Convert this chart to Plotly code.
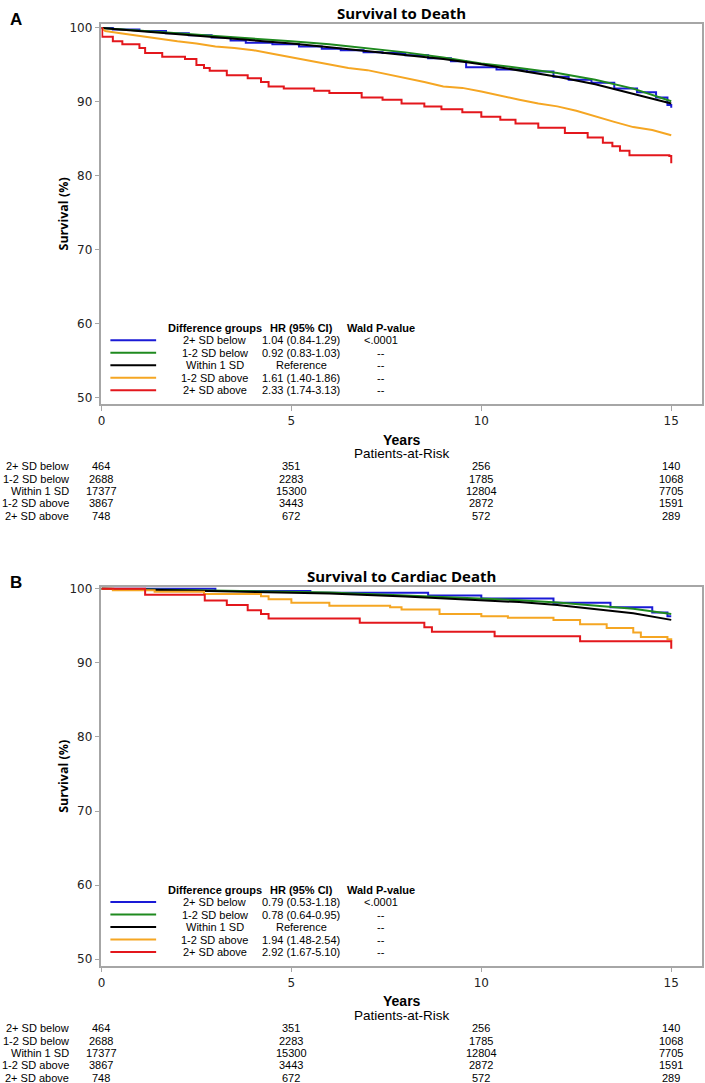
import plotly.graph_objects as go

W, H = 705, 1083

# ---------------- data ----------------
groups = ["2+ SD below", "1-2 SD below", "Within 1 SD", "1-2 SD above", "2+ SD above"]
colors = ["#1a1ad6", "#1f8a1f", "#000000", "#f5a623", "#e3171c"]

# Panel A: Survival to Death
A_blue_t = [0, 0.3, 1.0, 1.7, 2.3, 2.9, 3.4, 3.8, 4.5, 5.2, 5.8, 6.3, 6.9, 7.4, 8.0, 8.6, 9.2, 9.6, 10.4, 11.2, 11.9, 12.3, 12.9, 13.5, 14.1, 14.6, 14.9, 15.0]
A_blue_s = [100, 99.8, 99.6, 99.3, 99.0, 98.7, 98.3, 98.0, 97.8, 97.5, 97.2, 97.0, 96.7, 96.6, 96.3, 95.9, 95.5, 94.7, 94.4, 94.1, 93.4, 93.0, 92.6, 91.8, 91.3, 90.6, 89.6, 89.2]
A_green_t = [0, 1, 2, 3, 4, 5, 6, 7, 8, 9, 10, 11, 12, 13, 14, 15]
A_green_s = [100, 99.7, 99.3, 98.9, 98.6, 98.2, 97.8, 97.3, 96.7, 96.0, 95.2, 94.6, 93.9, 93.0, 91.8, 90.1]
A_black_t = [0, 1, 2, 3, 4, 5, 6, 7, 8, 9, 10, 11, 12, 13, 14, 15]
A_black_s = [100, 99.6, 99.2, 98.8, 98.3, 97.9, 97.4, 96.9, 96.4, 95.8, 95.1, 94.3, 93.4, 92.4, 91.1, 89.8]
A_orange_t = [0, 0.1, 0.5, 1.0, 1.5, 2.0, 2.5, 3.0, 3.5, 4.0, 4.5, 5.0, 5.5, 6.0, 6.5, 7.0, 7.5, 8.0, 8.5, 9.0, 9.5, 10.0, 10.5, 11.0, 11.5, 12.0, 12.5, 13.0, 13.5, 14.0, 14.5, 15.0]
A_orange_s = [100, 99.6, 99.3, 98.9, 98.5, 98.2, 97.9, 97.5, 97.3, 97.0, 96.5, 96.0, 95.6, 95.0, 94.6, 94.3, 93.8, 93.3, 92.7, 92.1, 91.9, 91.4, 90.8, 90.3, 89.8, 89.4, 88.8, 88.0, 87.3, 86.6, 86.2, 85.5]
A_red_t = [0, 0.02, 0.3, 0.55, 1.0, 1.15, 1.6, 2.2, 2.5, 2.7, 2.85, 3.3, 3.85, 4.2, 4.4, 4.8, 5.6, 6.0, 6.85, 7.4, 7.9, 8.5, 8.95, 9.5, 10.0, 10.5, 10.9, 11.5, 12.2, 12.8, 13.2, 13.45, 13.65, 13.9, 14.95, 15.0]
A_red_s = [100, 98.8, 98.2, 97.8, 97.3, 96.6, 96.1, 95.8, 95.0, 94.6, 94.2, 93.6, 93.2, 92.7, 92.1, 91.8, 91.5, 91.2, 90.6, 90.3, 89.8, 89.4, 89.0, 88.6, 88.0, 87.6, 87.1, 86.5, 85.8, 85.2, 84.5, 84.0, 83.4, 82.8, 82.7, 81.7]

# Panel B: Survival to Cardiac Death
B_blue_t = [0, 3.0, 5.5, 8.6, 10.0, 11.9, 13.4, 14.5, 14.9, 15.0]
B_blue_s = [100, 99.7, 99.45, 99.1, 98.7, 98.1, 97.5, 96.8, 96.3, 96.3]
B_green_t = [0, 2, 4, 6, 8, 10, 11, 12, 13, 14, 15]
B_green_s = [100, 99.85, 99.7, 99.5, 99.1, 98.7, 98.45, 98.15, 97.75, 97.3, 96.6]
B_black_t = [0, 2, 4, 6, 8, 10, 11, 12, 13, 14, 15]
B_black_s = [100, 99.8, 99.6, 99.35, 98.95, 98.5, 98.2, 97.8, 97.3, 96.7, 95.8]
B_orange_t = [0, 0.3, 1.4, 2.7, 4.2, 4.4, 5.0, 6.0, 7.6, 7.9, 8.9, 10.0, 10.7, 11.9, 12.6, 13.3, 14.0, 14.2, 14.9, 15.0]
B_orange_s = [100, 99.8, 99.6, 99.3, 99.0, 98.6, 98.1, 97.7, 97.5, 97.2, 96.6, 96.3, 96.1, 95.8, 95.2, 94.7, 94.1, 93.5, 93.2, 92.9]
B_red_t = [0, 1.15, 2.72, 3.3, 3.85, 4.2, 4.4, 6.8, 8.5, 8.7, 10.35, 12.6, 14.95, 15.0]
B_red_s = [100, 99.2, 98.4, 97.8, 97.1, 96.6, 96.0, 95.4, 94.8, 94.2, 93.6, 92.9, 92.9, 91.9]

A_hr = ["1.04 (0.84-1.29)", "0.92 (0.83-1.03)", "Reference", "1.61 (1.40-1.86)", "2.33 (1.74-3.13)"]
B_hr = ["0.79 (0.53-1.18)", "0.78 (0.64-0.95)", "Reference", "1.94 (1.48-2.54)", "2.92 (1.67-5.10)"]
pvals = ["<.0001", "--", "--", "--", "--"]

risk_times = [0, 5, 10, 15]
risk_2below = [464, 351, 256, 140]
risk_12below = [2688, 2283, 1785, 1068]
risk_within = [17377, 15300, 12804, 7705]
risk_12above = [3867, 3443, 2872, 1591]
risk_2above = [748, 672, 572, 289]
risk_rows = [risk_2below, risk_12below, risk_within, risk_12above, risk_2above]

x_ticks = [0, 5, 10, 15]
y_ticks = [50, 60, 70, 80, 90, 100]

# ---------------- helpers ----------------
def px(x):
    return x / W

def py(y):
    return 1 - y / H

fig = go.Figure()

panelA = [(A_blue_t, A_blue_s, "hv"), (A_green_t, A_green_s, "linear"), (A_black_t, A_black_s, "linear"),
          (A_orange_t, A_orange_s, "linear"), (A_red_t, A_red_s, "hv")]
panelB = [(B_blue_t, B_blue_s, "hv"), (B_green_t, B_green_s, "linear"), (B_black_t, B_black_s, "linear"),
          (B_orange_t, B_orange_s, "hv"), (B_red_t, B_red_s, "hv")]

for i, (t, s, shp) in enumerate(panelA):
    fig.add_trace(go.Scatter(x=t, y=s, mode="lines", line=dict(color=colors[i], width=2, shape=shp),
                             xaxis="x", yaxis="y", showlegend=False, hoverinfo="skip"))
for i, (t, s, shp) in enumerate(panelB):
    fig.add_trace(go.Scatter(x=t, y=s, mode="lines", line=dict(color=colors[i], width=2, shape=shp),
                             xaxis="x2", yaxis="y2", showlegend=False, hoverinfo="skip"))

x_dom = [px(98), px(702)]
axis_common = dict(showline=True, mirror=True, linecolor="#a6a6a6", linewidth=1.5,
                   ticks="outside", ticklen=5, tickcolor="#a6a6a6", tickwidth=1,
                   showgrid=False, zeroline=False,
                   tickfont=dict(family="DejaVu Sans", size=12, color="#222222"))

fig.update_layout(
    width=W, height=H, autosize=False,
    margin=dict(l=0, r=0, t=0, b=0),
    plot_bgcolor="white", paper_bgcolor="white",
    xaxis=dict(domain=x_dom, range=[0, 15.81], tickvals=x_ticks, anchor="y", **axis_common),
    yaxis=dict(domain=[py(401), py(19)], range=[49.2, 100.55], tickvals=y_ticks, anchor="x", **axis_common),
    xaxis2=dict(domain=x_dom, range=[0, 15.81], tickvals=x_ticks, anchor="y2", **axis_common),
    yaxis2=dict(domain=[py(966), py(585)], range=[49.13, 100.27], tickvals=y_ticks, anchor="x2", **axis_common),
)

ann = []
shapes = []

def panel(letter, title, top, axis_y, xref, hrs):
    ann.append(dict(text="<b>%s</b>" % letter, x=px(12), y=py(top + 15 - 19), xref="paper", yref="paper",
                    xanchor="center", yanchor="middle", showarrow=False,
                    font=dict(family="Liberation Sans", size=17, color="black")))
    ann.append(dict(text="<b>%s</b>" % title, x=px(400), y=py(top + 8.5 - 19), xref="paper", yref="paper",
                    xanchor="center", yanchor="middle", showarrow=False,
                    font=dict(family="Open Sans", size=15, color="black")))
    ann.append(dict(text="<b>Survival (%)</b>", x=px(60), y=py((top + axis_y) / 2), xref="paper", yref="paper",
                    xanchor="center", yanchor="middle", showarrow=False, textangle=-90,
                    font=dict(family="Open Sans", size=12.5, color="black")))
    ann.append(dict(text="<b>Years</b>", x=px(400), y=py(axis_y + 36), xref="paper", yref="paper",
                    xanchor="center", yanchor="middle", showarrow=False,
                    font=dict(family="Liberation Sans", size=14, color="black")))
    ann.append(dict(text="Patients-at-Risk", x=px(400), y=py(axis_y + 50), xref="paper", yref="paper",
                    xanchor="center", yanchor="middle", showarrow=False,
                    font=dict(family="Liberation Sans", size=13.5, color="black")))
    row_y0 = axis_y + 63
    for r, (g, vals) in enumerate(zip(groups, risk_rows)):
        yy = py(row_y0 + r * 12.4)
        ann.append(dict(text=g, x=px(67), y=yy, xref="paper", yref="paper", xanchor="right",
                        yanchor="middle", showarrow=False,
                        font=dict(family="Liberation Sans", size=11, color="black")))
        for t, v in zip(risk_times, vals):
            ann.append(dict(text=str(v), x=t, y=yy, xref=xref, yref="paper", xanchor="center",
                            yanchor="middle", showarrow=False,
                            font=dict(family="Liberation Sans", size=11, color="black")))
    hy = axis_y - 76
    for txt, cx in [("Difference groups", 212), ("HR (95% CI)", 299), ("Wald P-value", 379)]:
        ann.append(dict(text="<b>%s</b>" % txt, x=px(cx), y=py(hy), xref="paper", yref="paper",
                        xanchor="center", yanchor="middle", showarrow=False,
                        font=dict(family="Liberation Sans", size=11, color="black")))
    for r in range(5):
        ry = hy + 12 + r * 12.6
        shapes.append(dict(type="line", xref="paper", yref="paper", x0=px(107), x1=px(153),
                           y0=py(ry), y1=py(ry), line=dict(color=colors[r], width=2)))
        for txt, cx in [(groups[r], 212), (hrs[r], 299), (pvals[r], 379)]:
            ann.append(dict(text=txt, x=px(cx), y=py(ry), xref="paper", yref="paper",
                            xanchor="center", yanchor="middle", showarrow=False,
                            font=dict(family="Liberation Sans", size=11, color="black")))

panel("A", "Survival to Death", 19, 401, "x", A_hr)
panel("B", "Survival to Cardiac Death", 585, 966, "x2", B_hr)

fig.update_layout(annotations=ann, shapes=shapes)
fig.write_html("out.html", config={"displayModeBar": False},
               post_script="document.body.style.margin='0';document.body.style.overflow='hidden';")
